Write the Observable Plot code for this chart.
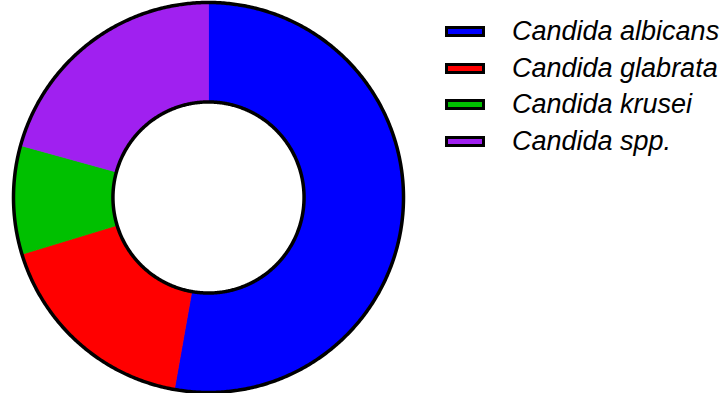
<!DOCTYPE html>
<html><head><meta charset="utf-8">
<script src="https://cdn.jsdelivr.net/npm/d3@7"></script>
<script src="https://cdn.jsdelivr.net/npm/@observablehq/plot@0.6"></script>
<style>
html,body{margin:0;padding:0;background:#fff;}
#wrap{position:relative;width:721px;height:393px;overflow:hidden;}
#chart svg{display:block;}
#legend{position:absolute;left:445px;top:13.5px;font-family:"Liberation Sans",Arial,sans-serif;font-style:italic;font-size:27px;color:#000;}
.row{display:flex;align-items:center;height:36.5px;white-space:nowrap;}
.sw{width:34px;height:5px;border:3px solid #000;margin-right:27px;flex:none;}
</style></head><body><div id="wrap"><div id="chart"></div><div id="legend"></div></div>
<script>
const species = ["Candida albicans", "Candida glabrata", "Candida krusei", "Candida spp."];
const shares = [52.8, 17.5, 9.0, 20.7];
const colors = ["#0000ff", "#ff0000", "#00c000", "#a020f0"];

const W = 721, H = 393, cx = 208, cy = 197, R = 195, innerRatio = 0.49;
const table = species.map((s, i) => ({species: s, share: shares[i]}));
const arcs = d3.pie().sort(null).value(d => d.share)(table);
const step = Math.PI / 360;
const slicePts = [];
for (const p of arcs) {
  const n = Math.max(2, Math.ceil((p.endAngle - p.startAngle) / step));
  const pts = [];
  for (let k = 0; k <= n; k++) {
    const a = p.startAngle + (p.endAngle - p.startAngle) * k / n;
    pts.push([Math.sin(a), Math.cos(a)]);
  }
  for (let k = n; k >= 0; k--) {
    const a = p.startAngle + (p.endAngle - p.startAngle) * k / n;
    pts.push([innerRatio * Math.sin(a), innerRatio * Math.cos(a)]);
  }
  pts.push(pts[0]);
  pts.forEach(([x, y]) => slicePts.push({species: p.data.species, x, y}));
}
const ringPts = [];
for (const [ring, r] of [["outer", 1], ["inner", innerRatio]]) {
  for (let k = 0; k <= 720; k++) {
    const a = 2 * Math.PI * k / 720;
    ringPts.push({ring, x: r * Math.sin(a), y: r * Math.cos(a)});
  }
}

const chart = Plot.plot({
  width: W, height: H, margin: 0,
  x: {domain: [-cx / R, (W - cx) / R], axis: null},
  y: {domain: [-(H - cy) / R, cy / R], axis: null},
  color: {domain: species, range: colors},
  marks: [
    Plot.line(slicePts, {x: "x", y: "y", z: "species", fill: "species", stroke: "species", strokeWidth: 0.8}),
    Plot.line(ringPts, {x: "x", y: "y", z: "ring", stroke: "black", strokeWidth: 3.5})
  ]
});
document.getElementById("chart").appendChild(chart);

const legend = document.getElementById("legend");
species.forEach((s, i) => {
  const row = document.createElement("div");
  row.className = "row";
  const sw = document.createElement("div");
  sw.className = "sw";
  sw.style.background = colors[i];
  const t = document.createElement("span");
  t.textContent = s;
  row.appendChild(sw);
  row.appendChild(t);
  legend.appendChild(row);
});
</script>
</body></html>
